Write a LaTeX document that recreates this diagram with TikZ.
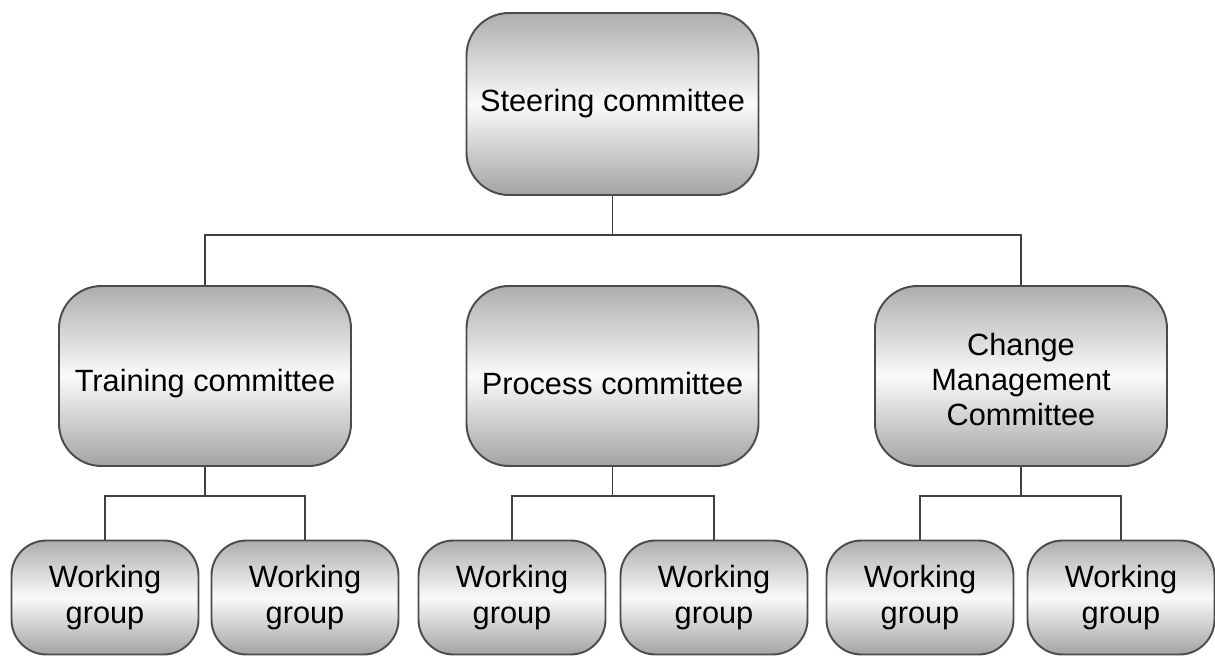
\documentclass[tikz,border=0pt]{standalone}
\usepackage{fontspec}
\setmainfont{Liberation Sans}
\usepackage{tikz}
\usetikzlibrary{positioning}

\newcommand{\lowtext}[1]{\raisebox{-0.15cm}[\height][\depth]{#1}}

\begin{document}
\begin{tikzpicture}[
  box/.style={draw=black!70, line width=1.1pt, rounded corners=0.85cm,
    top color=black!32, bottom color=black!36, middle color=black!2,
    align=center, font=\fontsize{17.5}{20}\selectfont, inner sep=0pt},
  bigbox/.style={box, minimum width=5.84cm, minimum height=3.6cm},
  wgbox/.style={box, rounded corners=0.7cm, minimum width=3.74cm, minimum height=2.28cm},
  link/.style={draw=black!75, line width=1pt}]
          \useasboundingbox (0,0) rectangle (24.3,13.12);
          \coordinate (bus) at (12.25,8.42);
          \coordinate (tbus) at (4.1,3.2);
          \coordinate (pbus) at (12.25,3.2);
          \coordinate (cbus) at (20.42,3.2);
          \node[bigbox, minimum height=3.64cm] (steer) at (12.25,11.04) {Steering committee};
          \node[bigbox] (train) at (4.1,5.6) {\lowtext{Training committee}};
          \node[bigbox] (proc) at (12.25,5.6) {\lowtext{Process committee}};
          \node[bigbox] (change) at (20.42,5.6) {\lowtext{\begin{tabular}{@{}c@{}}Change\\Management\\Committee\end{tabular}}};
          \node[wgbox] (wg1) at (2.1,1.17) {Working\\group};
          \node[wgbox] (wg2) at (6.1,1.17) {Working\\group};
          \node[wgbox] (wg3) at (10.24,1.17) {Working\\group};
          \node[wgbox] (wg4) at (14.28,1.17) {Working\\group};
          \node[wgbox] (wg5) at (18.4,1.17) {Working\\group};
          \node[wgbox] (wg6) at (22.42,1.17) {Working\\group};
          % top level
          \draw[link] (steer.south) -- (bus);
          \draw[link] (train.north) |- (bus) -| (change.north);
          % working groups
          \draw[link] (train.south) -- (tbus);
          \draw[link] (wg1.north) |- (tbus) -| (wg2.north);
          \draw[link] (proc.south) -- (pbus);
          \draw[link] (wg3.north) |- (pbus) -| (wg4.north);
          \draw[link] (change.south) -- (cbus);
          \draw[link] (wg5.north) |- (cbus) -| (wg6.north);
        \end{tikzpicture}
\end{document}
